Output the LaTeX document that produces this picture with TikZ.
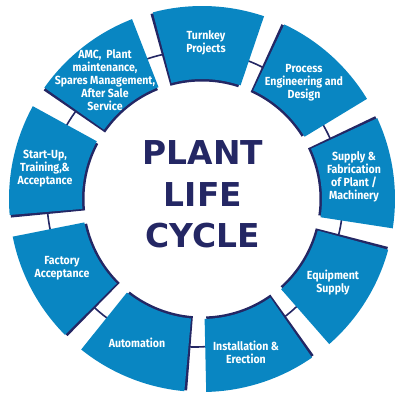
\documentclass[tikz,border=0pt]{standalone}
\usepackage{fontspec}
\setmainfont{Fira Sans}
\newfontfamily\segfont[FakeStretch=0.9]{Fira Sans Bold}
\newfontfamily\titlefont{DejaVu Sans Bold}
\usetikzlibrary{calc}
\definecolor{segblue}{RGB}{9,134,194}
\definecolor{navy}{RGB}{36,39,100}
\tikzset{
  seglabel/.style={text=white, align=center, inner sep=0pt,
    font=\segfont\fontsize{11.8}{13}\selectfont},
  titlelabel/.style={text=navy, align=center, inner sep=0pt,
    font=\titlefont\fontsize{33}{41.5}\selectfont}
}
\begin{document}
\begin{tikzpicture}[x=1bp,y=1bp]
\useasboundingbox (0,0) rectangle (400,400);
\coordinate (C) at (202,201);
\coordinate (RC) at (195,201);
\draw[navy, line width=1.6bp] (RC) circle[radius=148];
\foreach \a in {88,48,...,-232} {
  \pgfmathsetmacro{\sa}{\a-16.75}
  \pgfmathsetmacro{\ea}{\a+16.75}
  \pgfmathsetmacro{\sb}{\a-16.75+0.8}
  \pgfmathsetmacro{\eb}{\a+16.75+0.8}
  \fill[navy] ($(C)+(\sb:117.5)$) arc[start angle=\sb, end angle=\eb, radius=117.5]
     -- ($(C)+(\eb:192)$) arc[start angle=\eb, end angle=\sb, radius=192] -- cycle;
  \fill[segblue] ($(C)+(\sa:120)$) arc[start angle=\sa, end angle=\ea, radius=120]
     -- ($(C)+(\ea:193)$) arc[start angle=\ea, end angle=\sa, radius=193] -- cycle;
}
\node[seglabel] (turnkey) at (206,357.5) {Turnkey\\Projects};
\node[seglabel] (process) at (304,317) {Process\\Engineering and\\Design};
\node[seglabel] (supply) at (354,223) {Supply \&\\Fabrication\\of Plant /\\Machinery};
\node[seglabel] (equip) at (333,117) {Equipment\\Supply};
\node[seglabel] (install) at (246,48) {Installation \&\\Erection};
\node[seglabel] (auto) at (137,57) {Automation};
\node[seglabel] (factory) at (62,132) {Factory\\Acceptance};
\node[seglabel] (startup) at (45,231) {Start-Up,\\Training,\&\\Acceptance};
\node[seglabel] (amc) at (105,320) {AMC,\ \ Plant\\maintenance,\\Spares Management,\\After Sale\\Service};
\node[titlelabel] (title) at (203,205.5) {PLANT\\LIFE\\CYCLE};
\end{tikzpicture}
\end{document}
